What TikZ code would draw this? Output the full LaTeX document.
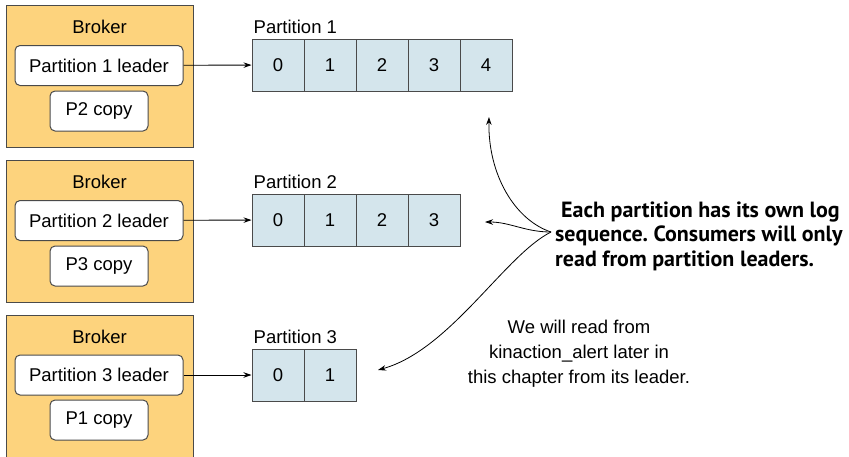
\documentclass[tikz,border=0pt]{standalone}
\usepackage{fontspec}
\setmainfont{Liberation Sans}
\newfontfamily\notefont{PT Sans}
\usetikzlibrary{arrows.meta}
\frenchspacing

\definecolor{brokerfill}{HTML}{FDD37D}
\definecolor{cellfill}{HTML}{D4E5EC}
\definecolor{edgegray}{HTML}{4A4A4A}

\begin{document}
\begin{tikzpicture}[x=1pt, y=-1pt, >={Stealth[length=8pt,width=5.5pt]},
    broker/.style={draw=edgegray, line width=1pt, fill=brokerfill, minimum width=187pt, minimum height=142pt},
    leader/.style={draw=edgegray, line width=1pt, fill=white, rounded corners=5pt, minimum width=168pt, minimum height=40pt, font=\fontsize{18.5}{22}\selectfont},
    replica/.style={leader, minimum width=98pt},
    cell/.style={draw=edgegray, line width=1pt, fill=cellfill, minimum size=52pt, font=\fontsize{18.5}{22}\selectfont},
    plabel/.style={anchor=south west, inner sep=0pt, font=\fontsize{18.5}{22}\selectfont}]

    \useasboundingbox (0,0) rectangle (849,456);

    % Broker
    \node[broker] (b1) at (99.5, 76) {};
    \node[font=\fontsize{18.5}{22}\selectfont] (b1t) at (99.5, 27) {Broker};
    \node[leader] (lead1) at (99, 65.5) {Partition 1 leader};
    \node[replica] (copy1) at (99, 111) {P2 copy};

    \node[broker] (b2) at (99.5, 231) {};
    \node[font=\fontsize{18.5}{22}\selectfont] (b2t) at (99.5, 182) {Broker};
    \node[leader] (lead2) at (99, 220.5) {Partition 2 leader};
    \node[replica] (copy2) at (99, 266) {P3 copy};

    \node[broker] (b3) at (99.5, 386) {};
    \node[font=\fontsize{18.5}{22}\selectfont] (b3t) at (99.5, 337) {Broker};
    \node[leader] (lead3) at (99, 375) {Partition 3 leader};
    \node[replica] (copy3) at (99, 420) {P1 copy};

    % Partitionen
    \foreach \i in {0,...,4}
        \node[cell] (p1c\i) at (278+52*\i, 65) {\i};
    \foreach \i in {0,...,3}
        \node[cell] (p2c\i) at (278+52*\i, 220) {\i};
    \foreach \i in {0,...,1}
        \node[cell] (p3c\i) at (278+52*\i, 375) {\i};

    \node[plabel] (p1l) at ([xshift=2pt, yshift=5pt]p1c0.north west) {Partition 1};
    \node[plabel] (p2l) at ([xshift=2pt, yshift=5pt]p2c0.north west) {Partition 2};
    \node[plabel] (p3l) at ([xshift=2pt, yshift=5pt]p3c0.north west) {Partition 3};

    % Pfeile
    \draw[->, line width=0.9pt] (lead1) -- (p1c0);
    \draw[->, line width=0.9pt] (lead2) -- (p2c0);
    \draw[->, line width=0.9pt] (lead3) -- (p3c0);

    % Notizen
    \node[anchor=west, align=left, inner sep=0pt, font=\notefont\bfseries\fontsize{22}{24.5}\selectfont] (note) at (555, 236)
        {\hspace*{6pt}Each partition has its own log\\sequence. Consumers will only\\read from partition leaders.};
    \node[align=center, inner sep=0pt, font=\fontsize{18.5}{25}\selectfont] (later) at (579, 354)
        {We will read from\\kinaction\_alert later in\\this chapter from its leader.};

    \coordinate (src) at (551, 232);
    \coordinate (t1) at (489, 117);
    \coordinate (t2) at (485, 222);
    \coordinate (t3) at (378, 370);

    \draw[->, line width=0.8pt] (src) .. controls (515, 220) and (488, 175) .. (t1);
    \draw[->, line width=0.8pt] (src) .. controls (525, 232) and (510, 222) .. (t2);
    \draw[->, line width=0.8pt] (src) .. controls (505, 255) and (450, 350) .. (t3);

\end{tikzpicture}
\end{document}
